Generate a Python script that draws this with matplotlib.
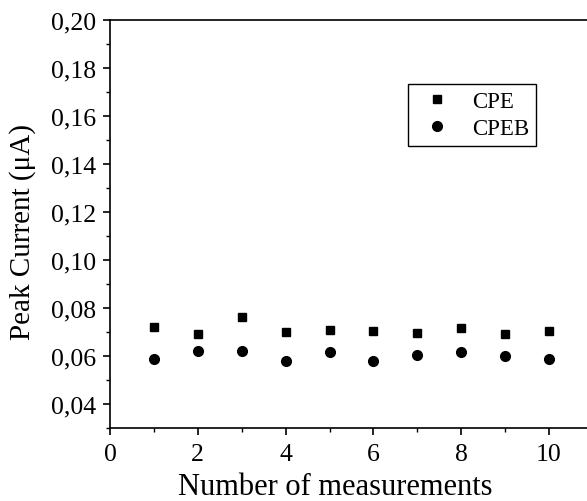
import matplotlib
matplotlib.use("Agg")
import matplotlib.pyplot as plt
from matplotlib.ticker import MultipleLocator, FuncFormatter

plt.rcParams['font.family'] = ['Liberation Serif', 'DejaVu Serif']

measurements = [1, 2, 3, 4, 5, 6, 7, 8, 9, 10]
cpe = [0.0722, 0.0693, 0.0764, 0.0699, 0.0710, 0.0703, 0.0697, 0.0718, 0.0693, 0.0706]
cpeb = [0.0588, 0.0621, 0.0621, 0.0579, 0.0615, 0.0580, 0.0604, 0.0618, 0.0600, 0.0588]

fig = plt.figure(figsize=(5.87, 5.02), dpi=100)
ax = fig.add_axes([110/587, 73/502, 477/587, 408/502])

ax.plot(measurements, cpe, linestyle='none', marker='s', color='black', markersize=6, label='CPE')
ax.plot(measurements, cpeb, linestyle='none', marker='o', color='black', markersize=7, label='CPEB')

ax.set_xlim(0, 477/43.9)
ax.set_ylim(0.03, 0.20)

ax.xaxis.set_major_locator(MultipleLocator(2))
ax.xaxis.set_minor_locator(MultipleLocator(1))
ax.yaxis.set_major_locator(MultipleLocator(0.02))
ax.yaxis.set_minor_locator(MultipleLocator(0.01))
ax.yaxis.set_major_formatter(FuncFormatter(lambda v, p: f"{v:.2f}".replace('.', ',')))

ax.spines['right'].set_visible(False)
for s in ['left', 'bottom', 'top']:
    ax.spines[s].set_linewidth(1.2)

ax.tick_params(axis='both', which='major', direction='out', length=5, width=1.2, labelsize=18.5)
ax.tick_params(axis='x', which='major', pad=6)
ax.tick_params(axis='y', which='major', pad=5)
ax.tick_params(axis='both', which='minor', direction='out', length=3, width=1.0)
ax.tick_params(top=False, right=False)

ax.set_xlabel('Number of measurements', fontsize=22)
ax.set_ylabel('Peak Current (\u03bcA)', fontsize=21)
ax.xaxis.set_label_coords((335-110)/477, (29-73)/408)
ax.yaxis.set_label_coords((36-110)/477, (502-232.5-73)/408)

leg = ax.legend(loc='upper left', bbox_to_anchor=(408/587, 1 - 85/502), bbox_transform=fig.transFigure,
                fontsize=16.5, frameon=True, fancybox=False, edgecolor='black', framealpha=1,
                handletextpad=0.6, borderpad=0.3, labelspacing=0.25, handlelength=1.9, borderaxespad=0)
leg.get_frame().set_linewidth(1.0)

fig.savefig('out.png', dpi=100)
